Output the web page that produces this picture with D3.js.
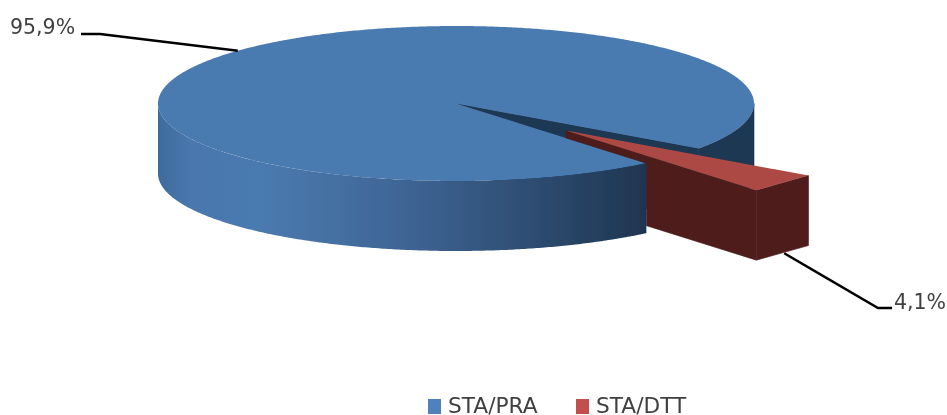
<!DOCTYPE html>
<html>
<head>
<meta charset="utf-8">
<script src="https://cdn.jsdelivr.net/npm/d3@7"></script>
<style>
	html, body { margin: 0; padding: 0; background: #fff; }
	svg { display: block; }
	text { font-family: "DejaVu Sans", sans-serif; fill: #404040; }
</style>
</head>
<body>
<svg id="chart" width="947" height="415"></svg>
<script>
var categories = [ 'STA/PRA', 'STA/DTT' ];
var shares = [ 95.9, 4.1 ];
var shareLabels = [ '95,9%', '4,1%' ];

var topColors = [ '#4a7ab0', '#ad4a45' ];
var wallColors = [ '#1f3752', '#4f1f1e' ];
var legendColors = [ '#4f81bd', '#c0504d' ];

var svg = d3.select( '#chart' );

// ellipse of the pie top, and how far the slice is pulled out
var cx = 456, cy = 103.5, rx = 298, ry = 77.5, depth = 70;
var explode = { x: 110, y: 27 };

var x = d3.scaleLinear().domain( [ -1, 1 ] ).range( [ cx - rx, cx + rx ] );
var y = d3.scaleLinear().domain( [ -1, 1 ] ).range( [ cy - ry, cy + ry ] );

var deg = Math.PI / 180;
var full = 2 * Math.PI;
var pie = d3.pie().sort( null ).startAngle( 140.3 * deg ).endAngle( 140.3 * deg + full );
var slices = pie( shares );
var blue = slices[ 0 ], red = slices[ 1 ];

// angle is d3's: 0 at twelve o'clock, going clockwise
function pt( a, dx, dy ) {
	return [ x( Math.sin( a ) ) + ( dx || 0 ), y( -Math.cos( a ) ) + ( dy || 0 ) ];
}
function arcPts( a0, a1, dx, dy ) {
	var n = Math.max( 2, Math.ceil( Math.abs( a1 - a0 ) / ( 0.5 * deg ) ) );
	return d3.range( n + 1 ).map( function( i ) {
		return pt( a0 + ( a1 - a0 ) * i / n, dx, dy );
	} );
}
var line = d3.line();
function poly( points, fill, seam ) {
	var p = g.append( 'path' ).attr( 'd', line( points ) + 'Z' ).attr( 'fill', fill );
	// same colour stroke hides the hairline between touching walls
	if ( seam ) {
		p.attr( 'stroke', fill ).attr( 'stroke-width', 0.6 );
	}
	return p;
}

var defs = svg.append( 'defs' );
var grad = defs.append( 'linearGradient' )
	.attr( 'id', 'wall' )
	.attr( 'gradientUnits', 'userSpaceOnUse' )
	.attr( 'x1', x( -1 ) ).attr( 'x2', pt( blue.startAngle )[ 0 ] )
	.attr( 'y1', 0 ).attr( 'y2', 0 );
grad.selectAll( 'stop' )
	.data( [ [ 0, '#3f6b9c' ], [ 0.065, '#4877ae' ], [ 0.21, '#4a7ab0' ], [ 0.5, '#3f6595' ], [ 0.74, '#2f4f75' ], [ 1, '#1f3550' ] ] )
	.enter().append( 'stop' )
	.attr( 'offset', function( d ) { return d[ 0 ]; } )
	.attr( 'stop-color', function( d ) { return d[ 1 ]; } );

// the source is an upscaled bitmap, so everything is a little soft
defs.append( 'filter' ).attr( 'id', 'soft' )
	.append( 'feGaussianBlur' ).attr( 'stdDeviation', 0.5 );

var g = svg.append( 'g' ).attr( 'filter', 'url(#soft)' );

var centre = [ cx, cy ];
var gapStart = blue.endAngle - full;
var gapEnd = pt( blue.startAngle );

// right part of the outer wall and the wall seen inside the gap
poly( arcPts( 90 * deg, gapStart ).concat( arcPts( gapStart, 90 * deg, 0, depth ) ), wallColors[ 0 ], true );
poly( [ centre, pt( gapStart ), pt( gapStart, 0, depth ), [ cx, cy + depth ] ], wallColors[ 0 ], true );
poly( [ centre, pt( gapStart ), gapEnd ], wallColors[ 0 ], true );

// blue top, with the slice missing
poly( [ centre ].concat( arcPts( blue.startAngle, blue.endAngle ) ), topColors[ 0 ] );

// red walls, showing only inside the gap where they run past the blue edge
var apex = [ cx + explode.x, cy + explode.y ];
var redA = pt( red.startAngle, explode.x, explode.y );
var redB = pt( red.endAngle, explode.x, explode.y );
var slope = ( redB[ 1 ] - apex[ 1 ] ) / ( redB[ 0 ] - apex[ 0 ] );
var floor = [ gapEnd[ 0 ], apex[ 1 ] + depth + slope * ( gapEnd[ 0 ] - apex[ 0 ] ) ];
var gapEdge = [ apex[ 0 ], cy + ( gapEnd[ 1 ] - cy ) * explode.x / ( gapEnd[ 0 ] - cx ) ];
poly( [ apex, redB, [ redB[ 0 ], redB[ 1 ] + depth ], floor, gapEnd, gapEdge ], wallColors[ 1 ], true );
poly( [ redA, redB, [ redB[ 0 ], redB[ 1 ] + depth ], [ redA[ 0 ], redA[ 1 ] + depth ] ], wallColors[ 1 ], true );

// front wall of the blue slice
poly( arcPts( blue.startAngle, 270 * deg ).concat( arcPts( 270 * deg, blue.startAngle, 0, depth ) ), 'url(#wall)' );

// red top
poly( [ apex, redA, redB ], topColors[ 1 ] );

// leader lines run from the middle of each slice to its label
var blueMid = ( blue.startAngle + blue.endAngle ) / 2;
var redMid = ( red.startAngle + red.endAngle ) / 2;
var leaders = [
	[ pt( blueMid ), [ 100, 34 ], [ 81, 34 ] ],
	[ pt( redMid, explode.x, explode.y + depth ), [ 878, 308 ], [ 892, 308 ] ]
];
g.selectAll( '.leader' )
	.data( leaders )
	.enter().append( 'path' )
	.attr( 'class', 'leader' )
	.attr( 'd', line )
	.attr( 'fill', 'none' )
	.attr( 'stroke', '#000' )
	.attr( 'stroke-width', 2.5 );

var labelPos = [ [ 10, 34 ], [ 894, 309 ] ];
g.selectAll( '.share' )
	.data( shareLabels )
	.enter().append( 'text' )
	.attr( 'class', 'share' )
	.attr( 'x', function( d, i ) { return labelPos[ i ][ 0 ]; } )
	.attr( 'y', function( d, i ) { return labelPos[ i ][ 1 ]; } )
	.attr( 'font-size', 20.5 )
	.text( function( d ) { return d; } );

// legend
var legendX = [ 428, 576 ];
var item = g.selectAll( '.legend' )
	.data( categories )
	.enter().append( 'g' )
	.attr( 'class', 'legend' )
	.attr( 'transform', function( d, i ) { return 'translate(' + legendX[ i ] + ',399)'; } );
item.append( 'rect' )
	.attr( 'width', 13 ).attr( 'height', 15 )
	.attr( 'fill', function( d, i ) { return legendColors[ i ]; } );
item.append( 'text' )
	.attr( 'x', 20 ).attr( 'y', 14 )
	.attr( 'font-size', 21.7 )
	.text( function( d ) { return d; } );
</script>
</body>
</html>
